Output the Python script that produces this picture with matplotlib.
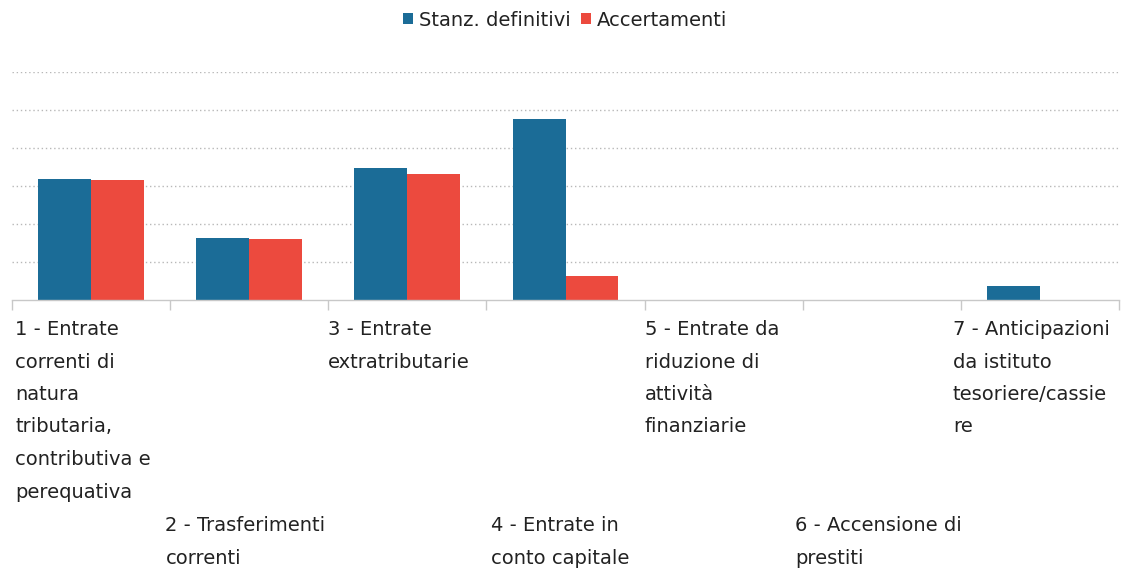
import matplotlib
matplotlib.use('Agg')
import matplotlib.pyplot as plt
import matplotlib.transforms as mtransforms
import numpy as np

# values (gridline units, no y scale shown)
categorie = ["1 - Entrate\ncorrenti di\nnatura\ntributaria,\ncontributiva e\nperequativa",
             "2 - Trasferimenti\ncorrenti",
             "3 - Entrate\nextratributarie",
             "4 - Entrate in\nconto capitale",
             "5 - Entrate da\nriduzione di\nattività\nfinanziarie",
             "6 - Accensione di\nprestiti",
             "7 - Anticipazioni\nda istituto\ntesoriere/cassie\nre"]
stanz_definitivi = [3.18, 1.64, 3.47, 4.77, 0.0, 0.0, 0.37]
accertamenti = [3.16, 1.61, 3.32, 0.63, 0.0, 0.0, 0.0]
serie = ["Stanz. definitivi", "Accertamenti"]

blu = '#1b6c97'
rosso = '#ec4a3e'

fig = plt.figure(figsize=(11.29, 5.75), dpi=100)
ax = fig.add_axes([12/1129, 1-300/575, 1107/1129, 228/575])

x = np.arange(len(categorie))
w = 0.335
ax.bar(x - w/2, stanz_definitivi, w, color=blu, label=serie[0], zorder=3)
ax.bar(x + w/2, accertamenti, w, color=rosso, label=serie[1], zorder=3)

ax.set_xlim(-0.5, len(categorie) - 0.5)
ax.set_ylim(0, 6.0)
ax.set_yticks(np.arange(1, 7))
ax.yaxis.grid(True, linestyle=(0, (1, 2)), color='#b8b8b8', linewidth=1.0)
ax.tick_params(axis='y', left=False, labelleft=False)
for s in ['top', 'left', 'right']:
    ax.spines[s].set_visible(False)
ax.spines['bottom'].set_color('#c8c8c8')
ax.spines['bottom'].set_linewidth(1.0)
ax.spines['bottom'].set_zorder(4)

# ticks between categories, labels placed by hand (staggered)
ax.set_xticks(np.arange(len(categorie) + 1) - 0.5)
ax.set_xticklabels([])
ax.tick_params(axis='x', direction='out', length=7, color='#c8c8c8', width=1.0)

trans = mtransforms.blended_transform_factory(ax.transData, fig.transFigure)
spost = [0.02, -0.03, 0.0, 0.03, 0.0, -0.05, -0.05]
for i, lab in enumerate(categorie):
    y = 1 - 320/575 if i % 2 == 0 else 1 - 516/575
    ax.text(i - 0.5 + spost[i], y, lab, transform=trans, ha='left', va='top',
            fontsize=14, color='#222222', linespacing=1.9, family='DejaVu Sans')

ax.legend(loc='center', bbox_to_anchor=(565/1129, 1 - 20/575),
          bbox_transform=fig.transFigure, ncol=2, frameon=False, fontsize=14,
          handlelength=0.55, handleheight=0.55, handletextpad=0.3,
          columnspacing=0.5, labelcolor='#222222')

fig.savefig('out.png', dpi=100)
